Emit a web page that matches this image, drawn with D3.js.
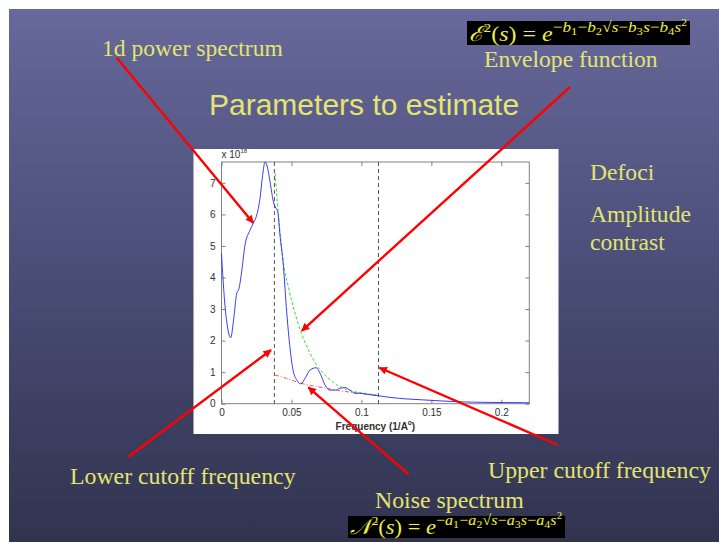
<!DOCTYPE html>
<html><head><meta charset="utf-8">
<script src="https://cdn.jsdelivr.net/npm/d3@7"></script>
<style>html,body{margin:0;padding:0;background:#fff;overflow:hidden}</style>
</head><body>
<svg id="c" width="719" height="542"></svg>
<script>
// ---- data ----
const spectrumFreq = [0.0000,0.0006,0.0025,0.0044,0.0066,0.0085,0.0109,0.0125,0.0144,0.0168,0.0204,0.0228,0.0252,0.0275,0.0294,0.0311,0.0328,0.0347,0.0371,0.0390,0.0402,0.0418,0.0442,0.0466,0.0490,0.0514,0.0538,0.0566,0.0597,0.0633,0.0676,0.0705,0.0740,0.0776,0.0812,0.0848,0.0883,0.0919,0.0955,0.0991,0.1038,0.1122,0.1205,0.1325,0.1444,0.1682,0.1921,0.2202];
const spectrumPower = [4.76,4.30,3.10,2.40,2.09,2.60,3.50,3.65,4.18,5.03,5.50,5.73,5.98,6.50,7.24,7.66,7.50,7.03,6.40,6.19,6.08,5.34,4.39,2.91,1.75,1.01,0.75,0.63,0.80,1.07,1.14,0.96,0.59,0.43,0.43,0.49,0.51,0.43,0.33,0.33,0.30,0.25,0.20,0.15,0.12,0.063,0.04,0.03];
const envelopeFreq = [0.0383,0.0410,0.0438,0.0480,0.0530,0.0574,0.0630,0.0693,0.0760,0.0820,0.0871,0.0950,0.1038,0.1122];
const envelopePower = [7.30,5.85,4.60,3.66,2.80,2.20,1.62,1.14,0.82,0.61,0.49,0.38,0.32,0.27];
const noiseFreq = [0.0383,0.0466,0.0566,0.0728,0.0848,0.0967,0.1122];
const noisePower = [0.91,0.80,0.65,0.51,0.41,0.34,0.25];
const cutoffs = [0.0378,0.1122];
const xTicks = [0,0.05,0.1,0.15,0.2];
const xTickLabels = ["0","0.05","0.1","0.15","0.2"];
const yTicks = [0,1,2,3,4,5,6,7];
const xDomain = [0,0.22];
const yDomain = [0,7.66];
// arrow targets in data units
const arrowTargetFreq = [0.0227,0.0574,0.0354,0.0621,0.1129];
const arrowTargetPower = [5.73,2.31,1.70,0.52,1.14];

const svg = d3.select("#c");
const defs = svg.append("defs");
const g = defs.append("linearGradient").attr("id","bg").attr("x1",0).attr("y1",0).attr("x2",0).attr("y2",1);
g.append("stop").attr("offset","0%").attr("stop-color","#66699a");
g.append("stop").attr("offset","50%").attr("stop-color","#4a4d76");
g.append("stop").attr("offset","100%").attr("stop-color","#31334f");
defs.append("marker").attr("id","ah").attr("viewBox","0 0 10 10").attr("refX",9).attr("refY",5)
  .attr("markerWidth",3.8).attr("markerHeight",3.4).attr("markerUnits","strokeWidth").attr("orient","auto")
  .append("path").attr("d","M0,0L10,5L0,10Z").attr("fill","#ff0000");

svg.append("rect").attr("x",9).attr("y",9).attr("width",710).attr("height",533).attr("fill","url(#bg)");

const yellow = "#e4e470";
const serif = "'Liberation Serif','DejaVu Serif',serif";
function label(txt,x,yy,size,anchor,font){
  svg.append("text").attr("x",x).attr("y",yy).attr("font-family",font||serif).attr("font-size",size)
    .attr("fill",yellow).attr("text-anchor",anchor||"start").text(txt);
}
label("1d power spectrum",102,56,23.6);
label("Envelope function",484,67,23.6);
label("Parameters to estimate",209,115,30,"start","'Liberation Sans',Arial,sans-serif");
label("Defoci",590,180,23.6);
label("Amplitude",590,222,23.6);
label("contrast",590,250,23.6);
label("Lower cutoff frequency",70,484,23.8);
label("Upper cutoff frequency",488,478,23.8);
label("Noise spectrum",375,508,23.8);

// formula boxes
function formula(bx,by,bw,bh,lead,sym){
  svg.append("rect").attr("x",bx).attr("y",by).attr("width",bw).attr("height",bh).attr("fill","#000");
  const t = svg.append("text").attr("x",bx+2).attr("y",by+bh-4).attr("font-family",serif)
    .attr("font-size",21).attr("fill","#f0f040")
    .attr("textLength",bw-5).attr("lengthAdjust","spacingAndGlyphs");
  t.append("tspan").attr("font-style","italic").text(lead);
  t.append("tspan").attr("font-size",13).attr("dy",-9).text("2");
  t.append("tspan").attr("dy",9).text("(");
  t.append("tspan").attr("font-style","italic").text("s");
  t.append("tspan").text(") = ");
  t.append("tspan").attr("font-style","italic").text("e");
  const parts = [["−",""],[sym,"1"],["−",""],[sym,"2"],["√",""],["s",""],["−",""],[sym,"3"],["s",""],["−",""],[sym,"4"],["s",""]];
  let first = true;
  parts.forEach(p=>{
    const ts = t.append("tspan").attr("font-size",15).attr("font-style", p[0]==="−"||p[0]==="√"?"normal":"italic").text(p[0]);
    if(first){ts.attr("dy",-9.5); first=false;}
    if(p[1]){ t.append("tspan").attr("font-size",11).attr("dy",3).text(p[1]);
              t.append("tspan").attr("font-size",1).attr("dy",-3).text(" "); }
  });
  t.append("tspan").attr("font-size",10).attr("dy",-6).text("2");
}
formula(467,21,223,24,"ℰ","b");
formula(348,516,217,22,"𝒩","a");

// ---- chart ----
svg.append("rect").attr("x",193.5).attr("y",149).attr("width",365).attr("height",285).attr("fill","#fff");
const xs = d3.scaleLinear().domain(xDomain).range([221.5,529.3]);
const ys = d3.scaleLinear().domain(yDomain).range([403.7,162]);
const ch = svg.append("g");
const axCol = "#808080", txtCol = "#303030";
function styleAxis(sel){
  sel.select(".domain").remove();
  sel.selectAll("line").attr("stroke",axCol);
  sel.selectAll("text").attr("fill",txtCol).attr("font-size",10).attr("font-family","'Liberation Sans',Arial,sans-serif");
}
ch.append("g").attr("transform",`translate(0,${ys(0)})`)
  .call(d3.axisBottom(xs).tickValues(xTicks).tickFormat((d,i)=>xTickLabels[i]).tickSize(-4).tickPadding(5)).call(styleAxis);
ch.append("g").attr("transform",`translate(0,${ys(yDomain[1])})`)
  .call(d3.axisTop(xs).tickValues(xTicks).tickFormat("").tickSize(-4)).call(styleAxis);
ch.append("g").attr("transform",`translate(${xs(0)},0)`)
  .call(d3.axisLeft(ys).tickValues(yTicks).tickSize(-4).tickPadding(6)).call(styleAxis);
ch.append("g").attr("transform",`translate(${xs(xDomain[1])},0)`)
  .call(d3.axisRight(ys).tickValues(yTicks).tickFormat("").tickSize(-4)).call(styleAxis);
ch.append("rect").attr("x",xs(0)).attr("y",ys(yDomain[1])).attr("width",xs(xDomain[1])-xs(0))
  .attr("height",ys(0)-ys(yDomain[1])).attr("fill","none").attr("stroke",axCol).attr("stroke-width",1);

// exponent label
const ex = ch.append("text").attr("x",xs(0)).attr("y",ys(yDomain[1])-4).attr("fill",txtCol)
  .attr("font-size",10).attr("font-family","'Liberation Sans',Arial,sans-serif");
ex.append("tspan").text("x 10");
ex.append("tspan").attr("font-size",6).attr("dy",-5).text("18");

ch.append("text").attr("x",(xs(0)+xs(xDomain[1]))/2).attr("y",430).attr("text-anchor","middle")
  .attr("fill",txtCol).attr("font-size",10).attr("font-weight","bold").attr("font-family","'Liberation Sans',Arial,sans-serif")
  .call(t=>{t.append("tspan").text("Frequency (1/A");t.append("tspan").attr("font-size",6.5).attr("dy",-5).text("o");t.append("tspan").attr("dy",5).text(")");});

// cutoff lines
ch.selectAll(".cut").data(cutoffs).enter().append("line")
  .attr("x1",d=>xs(d)).attr("x2",d=>xs(d)).attr("y1",ys(yDomain[1])).attr("y2",ys(0))
  .attr("stroke","#404040").attr("stroke-width",0.9).attr("stroke-dasharray","4,3");

const line = d3.line().x(d=>xs(d[0])).y(d=>ys(d[1])).curve(d3.curveMonotoneX);
ch.append("path").datum(noiseFreq.map((f,i)=>[f,noisePower[i]])).attr("d",line)
  .attr("fill","none").attr("stroke","#ff5050").attr("stroke-width",1).attr("stroke-dasharray","4,2,1,2");
ch.append("path").datum(envelopeFreq.map((f,i)=>[f,envelopePower[i]])).attr("d",line)
  .attr("fill","none").attr("stroke","#30e030").attr("stroke-width",1).attr("stroke-dasharray","3,2");
ch.append("path").datum(spectrumFreq.map((f,i)=>[f,spectrumPower[i]])).attr("d",line)
  .attr("fill","none").attr("stroke","#3a3aff").attr("stroke-width",1);

// arrows
const arrowStarts = [[116.7,57.7],[570,87],[128.5,456.7],[408.7,474.3],[557.9,445]];
arrowStarts.forEach((s,i)=>{
  svg.append("line").attr("x1",s[0]).attr("y1",s[1])
    .attr("x2",xs(arrowTargetFreq[i])).attr("y2",ys(arrowTargetPower[i]))
    .attr("stroke","#ff0000").attr("stroke-width",2.4).attr("marker-end","url(#ah)");
});
</script>
</body></html>
